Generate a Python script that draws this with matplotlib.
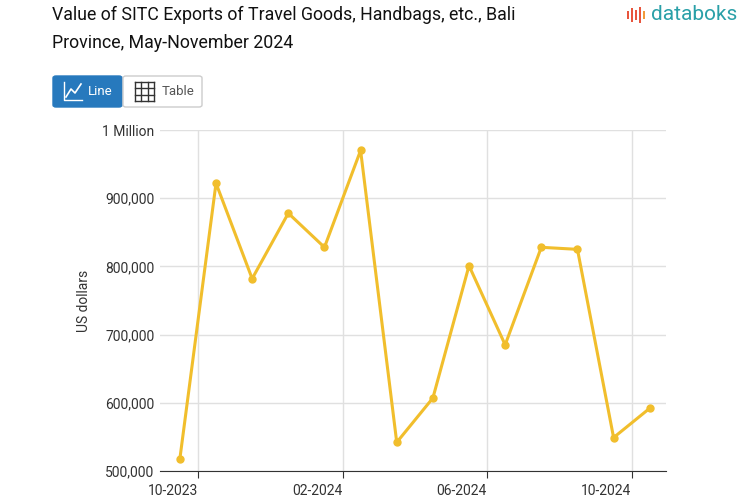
import matplotlib
matplotlib.use("Agg")
import matplotlib.pyplot as plt
from matplotlib.patches import FancyBboxPatch, Rectangle
from matplotlib.lines import Line2D
import numpy as np

plt.rcParams['font.family'] = ['Roboto', 'DejaVu Sans']

months = ["09-2023","10-2023","11-2023","12-2023","01-2024","02-2024","03-2024","04-2024",
          "05-2024","06-2024","07-2024","08-2024","09-2024","10-2024"]
values = [518000, 922000, 782000, 878000, 828000, 970000, 542000, 607000,
          801000, 685000, 828000, 825000, 549000, 592000]
tick_labels = ["10-2023", "02-2024", "06-2024", "10-2024"]
tick_pos = [0.5, 4.5, 8.5, 12.5]

W, H = 753, 498
fig = plt.figure(figsize=(W/100, H/100), dpi=100)
ax = fig.add_axes([160/W, 1-471/H, (666-160)/W, (471-130)/H])
x = np.arange(len(values))
ax.plot(x, values, color="#F1BE2C", lw=2.2, marker="o", ms=5, zorder=3)
ax.set_xlim(-0.55, 13.45)
ax.set_ylim(500000, 1000000)
yt = [500000, 600000, 700000, 800000, 900000, 1000000]
ax.set_yticks(yt)
ax.set_yticklabels(["500,000","600,000","700,000","800,000","900,000","1 Million"])
ax.set_xticks(tick_pos)
ax.set_xticklabels(tick_labels, ha="right")
ax.grid(True, color="#e0e0e0", lw=1)
for s in ["top","right","left"]:
    ax.spines[s].set_visible(False)
ax.spines["bottom"].set_color("#333333")
ax.tick_params(axis="both", length=0, labelsize=10, colors="#333333", pad=4)
ax.tick_params(axis="x", length=5, color="#333333")
ax.set_ylabel("US dollars", fontsize=10, color="#333333", labelpad=8)

fig.text(52/W, 1-6/H, "Value of SITC Exports of Travel Goods, Handbags, etc., Bali\nProvince, May-November 2024",
         fontsize=12.8, va="top", ha="left", linespacing=1.7, color="#111111")
fig.text(651/W, 1-15/H, "databoks", fontsize=15, color="#2aa0a8", va="center", ha="left")
for i, (h, c) in enumerate([(8, "#e8553d"), (14, "#e8553d"), (10, "#e8553d"), (16, "#e8553d"), (8, "#f29a3b")]):
    fig.patches.append(Rectangle(((627 + i*4)/W, 1-(15+h/2)/H), 2/W, h/H,
                                 transform=fig.transFigure, facecolor=c, edgecolor="none"))

b1 = FancyBboxPatch((53/W, 1-107/H), 69/W, 31/H, boxstyle="round,pad=0,rounding_size=0.004",
                    transform=fig.transFigure, facecolor="#2779bd", edgecolor="#2779bd")
b2 = FancyBboxPatch((123/W, 1-107/H), 79/W, 31/H, boxstyle="round,pad=0,rounding_size=0.004",
                    transform=fig.transFigure, facecolor="white", edgecolor="#cccccc")
fig.patches.extend([b1, b2])
fig.text(88/W, 1-91/H, "Line", fontsize=9.5, color="white", va="center")
fig.text(162/W, 1-91/H, "Table", fontsize=9.5, color="#555555", va="center")
px = np.array([64, 64, 82]); py = np.array([82, 100, 100])
fig.lines.append(Line2D(px/W, 1-py/H, transform=fig.transFigure, color="white", lw=1))
px = np.array([66, 71, 75, 81]); py = np.array([97, 89, 93, 84])
fig.lines.append(Line2D(px/W, 1-py/H, transform=fig.transFigure, color="white", lw=1.2))
for k in range(4):
    fig.lines.append(Line2D([(135+k*6.3)/W]*2, [1-82/H, 1-101/H], transform=fig.transFigure, color="#333333", lw=1))
    fig.lines.append(Line2D([135/W, 154/W], [1-(82+k*6.3)/H]*2, transform=fig.transFigure, color="#333333", lw=1))

fig.savefig("out.png", dpi=100)
